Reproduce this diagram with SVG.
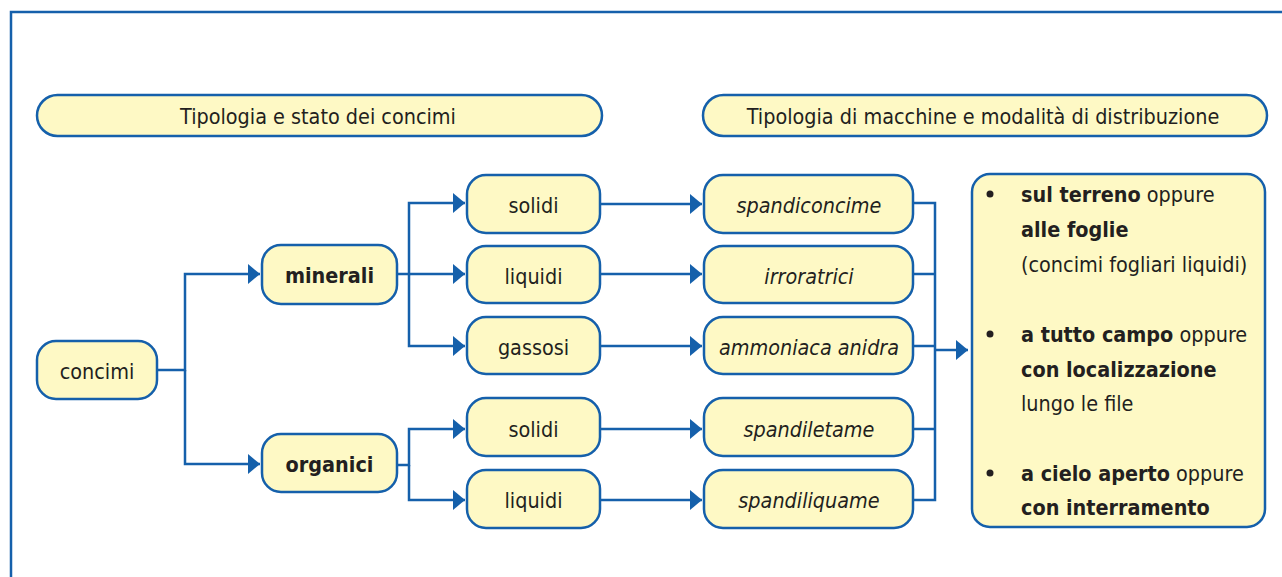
<svg xmlns="http://www.w3.org/2000/svg" width="1282" height="577" viewBox="0 0 1282 577">
<style>
.n{fill:#fef9c5;stroke:#1560ab;stroke-width:2.5}
.t{font-family:"Liberation Sans Narrow","DejaVu Sans Condensed","Liberation Sans",sans-serif;font-size:21.4px;fill:#231f20;text-anchor:middle}
.b{font-weight:bold}
.i{font-style:italic}
.l{text-anchor:start}
.c{fill:none;stroke:#1560ab;stroke-width:2.5}
</style>
<defs>
<marker id="ah" markerUnits="userSpaceOnUse" markerWidth="12" markerHeight="20" refX="12" refY="10" orient="auto">
<path d="M0,0 L12,10 L0,20 z" fill="#1560ab"/>
</marker>
</defs>
<rect width="1282" height="577" fill="#fff"/>
<path d="M11,577 V12 H1282" fill="none" stroke="#1560ab" stroke-width="2.5"/>
<g id="h1"><rect class="n" x="37" y="95" width="565" height="41" rx="20.5"/><text class="t" x="318" y="124">Tipologia e stato dei concimi</text></g>
<g id="h2"><rect class="n" x="703" y="95" width="564" height="41" rx="20.5"/><text class="t" x="983" y="124">Tipologia di macchine e modalità di distribuzione</text></g>
<g id="concimi"><rect class="n" x="37" y="341" width="120" height="58" rx="19"/><text class="t" x="97" y="379">concimi</text></g>
<g id="minerali"><rect class="n" x="262" y="245" width="135" height="59" rx="19"/><text class="t b" x="329.5" y="283">minerali</text></g>
<g id="organici"><rect class="n" x="262" y="434" width="135" height="58" rx="19"/><text class="t b" x="329.5" y="472">organici</text></g>
<g id="m-solidi"><rect class="n" x="467" y="175" width="133" height="58" rx="19"/><text class="t" x="533.5" y="213">solidi</text></g>
<g id="m-liquidi"><rect class="n" x="467" y="246" width="133" height="57" rx="19"/><text class="t" x="533.5" y="284">liquidi</text></g>
<g id="m-gassosi"><rect class="n" x="467" y="317" width="133" height="57" rx="19"/><text class="t" x="533.5" y="355">gassosi</text></g>
<g id="o-solidi"><rect class="n" x="467" y="398" width="133" height="58" rx="19"/><text class="t" x="533.5" y="437">solidi</text></g>
<g id="o-liquidi"><rect class="n" x="467" y="470" width="133" height="58" rx="19"/><text class="t" x="533.5" y="508">liquidi</text></g>
<g id="spandiconcime"><rect class="n" x="704" y="175" width="209" height="58" rx="19"/><text class="t i" x="809" y="213">spandiconcime</text></g>
<g id="irroratrici"><rect class="n" x="704" y="246" width="209" height="57" rx="19"/><text class="t i" x="809" y="284">irroratrici</text></g>
<g id="ammoniaca"><rect class="n" x="704" y="317" width="209" height="57" rx="19"/><text class="t i" x="809" y="355">ammoniaca anidra</text></g>
<g id="spandiletame"><rect class="n" x="704" y="398" width="209" height="58" rx="19"/><text class="t i" x="809" y="437">spandiletame</text></g>
<g id="spandiliquame"><rect class="n" x="704" y="470" width="209" height="58" rx="19"/><text class="t i" x="809" y="508">spandiliquame</text></g>
<g id="modalita">
<rect class="n" x="972" y="174" width="293" height="353" rx="18"/>
<g fill="#231f20"><circle cx="990" cy="194" r="3.5"/><circle cx="990" cy="334" r="3.5"/><circle cx="990" cy="473" r="3.5"/></g>
<text class="t l" x="1021" y="202"><tspan class="b">sul terreno</tspan> oppure</text>
<text class="t l b" x="1021" y="237">alle foglie</text>
<text class="t l" x="1021" y="272">(concimi fogliari liquidi)</text>
<text class="t l" x="1021" y="342"><tspan class="b">a tutto campo</tspan> oppure</text>
<text class="t l b" x="1021" y="377">con localizzazione</text>
<text class="t l" x="1021" y="411">lungo le file</text>
<text class="t l" x="1021" y="481"><tspan class="b">a cielo aperto</tspan> oppure</text>
<text class="t l b" x="1021" y="515">con interramento</text>
</g>
<g id="connectors">
<path class="c" d="M157,370 H185 V274 H260" marker-end="url(#ah)"/>
<path class="c" d="M185,370 V464 H260" marker-end="url(#ah)"/>
<path class="c" d="M397,274 H409 V203 H465" marker-end="url(#ah)"/>
<path class="c" d="M409,274 H465" marker-end="url(#ah)"/>
<path class="c" d="M409,274 V346 H465" marker-end="url(#ah)"/>
<path class="c" d="M397,465 H409 V429 H465" marker-end="url(#ah)"/>
<path class="c" d="M409,465 V500 H465" marker-end="url(#ah)"/>
<path class="c" d="M600,204 H702" marker-end="url(#ah)"/>
<path class="c" d="M600,274 H702" marker-end="url(#ah)"/>
<path class="c" d="M600,346 H702" marker-end="url(#ah)"/>
<path class="c" d="M600,429 H702" marker-end="url(#ah)"/>
<path class="c" d="M600,500 H702" marker-end="url(#ah)"/>
<path class="c" d="M913,203 H935 V500 H913 M913,274 H935 M913,346 H935 M913,429 H935 M935,350 H968" marker-end="url(#ah)"/>
</g>
</svg>
